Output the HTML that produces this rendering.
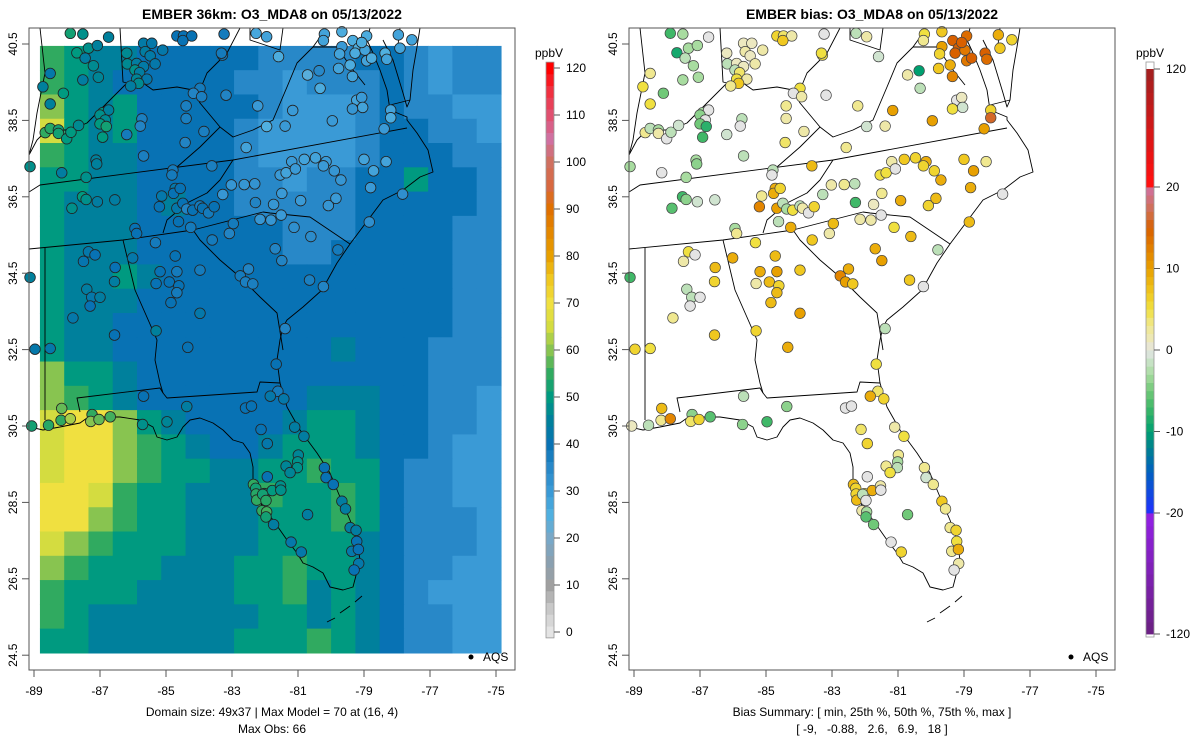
<!DOCTYPE html>
<html><head><meta charset="utf-8">
<style>
html,body{margin:0;padding:0;background:#fff;}
svg{display:block;font-family:"Liberation Sans",Arial,sans-serif;}
</style></head>
<body>
<svg id="chart" width="1200" height="750" viewBox="0 0 1200 750" xmlns="http://www.w3.org/2000/svg">
<defs>
<clipPath id="clipL"><rect x="29" y="28" width="486" height="642"/></clipPath>
<clipPath id="clipR"><rect x="629" y="28" width="486" height="642"/></clipPath>
</defs>
<text x="272" y="19" text-anchor="middle" font-size="14" font-weight="bold">EMBER 36km: O3_MDA8 on 05/13/2022</text>
<text x="872" y="19" text-anchor="middle" font-size="14" font-weight="bold">EMBER bias: O3_MDA8 on 05/13/2022</text>
<g id="gridL" clip-path="url(#clipL)"></g>
<g clip-path="url(#clipL)"><g id="mapL" transform="translate(-600,0)"></g></g>
<g id="mapR" clip-path="url(#clipR)"></g>
<g id="dotsL"></g>
<g id="dotsR"></g>
<rect x="29" y="28" width="486" height="642" fill="none" stroke="#555" stroke-width="1"/>
<rect x="629" y="28" width="486" height="642" fill="none" stroke="#555" stroke-width="1"/>
<g id="axes"></g>
<g id="cbL"></g>
<g id="cbR"></g>
<g><circle cx="471" cy="657" r="2.5" fill="#000"/><text x="483" y="661" font-size="12">AQS</text></g>
<g><circle cx="1071" cy="657" r="2.5" fill="#000"/><text x="1083" y="661" font-size="12">AQS</text></g>
<text x="272" y="716" text-anchor="middle" font-size="12">Domain size: 49x37 | Max Model = 70 at (16, 4)</text>
<text x="272" y="733" text-anchor="middle" font-size="12">Max Obs: 66</text>
<text x="872" y="716" text-anchor="middle" font-size="12">Bias Summary: [ min, 25th %, 50th %, 75th %, max ]</text>
<text x="872" y="733" text-anchor="middle" font-size="12" xml:space="preserve">[ -9,   -0.88,   2.6,   6.9,   18 ]</text>
</svg>
<script>
// ---------- data ----------
const xTicks = [-89,-87,-85,-83,-81,-79,-77,-75];
const yTicks = [40.5,38.5,36.5,34.5,32.5,30.5,28.5,26.5,24.5];
const modelTicks = [0,10,20,30,40,50,60,70,80,90,100,110,120];
const biasTicks = [120,20,10,0,-10,-20,-120];
const gridLonMin = -88.82, gridLonMax = -74.85, gridLatMax = 40.45, gridLatMin = 24.56;
// a=20 b=25 c=30 d=35 e=40 f=45 g=50 h=55 i=60 j=65 k=70 ppbV
const gridRows = [
"hgffeeeeeddddeedcdd",
"hgfeeeeeddcdddedcdd",
"igfgeeeeedcccdeddcc",
"jgfgeeeedccccdeeddc",
"hgffeeeedccccdeeedd",
"ggffeeeeddcddeegeed",
"gfffefeedddddeeeeed",
"gfffeeeeeedddeeeedd",
"gfffeeeeeeddeeeeedd",
"gffgfeeeeeeeeeeeedd",
"gfffeeeeeeeeeeeeedd",
"gffeeeeeeeeeeeeeedd",
"gffeeeeeeeeefeeeddd",
"iggfeeeeeeeeeeeeddd",
"ihgfeeeeeeefffeeddc",
"jkkigfeeeefggfeeddc",
"jkkihgfeefgggfeedcc",
"jkkihggffgghggeddcc",
"kkjhggfffhgghgeddcc",
"kkihggfffggghgedddc",
"jihgggfffggggfedddc",
"ihgggfffgghggfeddcc",
"hgggffffgghfgfedccc",
"hgfffffffggfgfeddcc",
"ggffffffggghgfeddcc"
];
const siteLon = [-87.90,-87.52,-86.74,-87.70,-87.35,-87.08,-87.45,-87.20,-88.51,-88.73,-88.11,-87.52,-87.05,-88.51,-86.19,-85.68,-85.43,-85.63,-85.48,-85.10,-86.17,-85.89,-85.68,-85.33,-85.94,-85.80,-85.58,-85.89,-85.83,-86.07,-84.67,-84.47,-84.22,-84.49,-83.24,-83.29,-83.32,-83.97,-84.17,-83.92,-83.18,-84.39,-84.39,-83.85,-84.42,-85.68,-85.73,-85.78,-86.19,-86.92,-86.74,-87.00,-86.84,-87.00,-86.81,-86.92,-88.66,-88.51,-88.26,-88.26,-88.01,-87.88,-87.65,-87.12,-87.10,-88.16,-87.42,-89.12,-82.22,-81.95,-81.39,-82.57,-81.59,-81.95,-82.27,-80.71,-80.36,-80.33,-81.16,-79.96,-80.20,-80.23,-79.67,-79.67,-79.74,-79.77,-79.42,-79.35,-79.34,-79.17,-79.27,-78.97,-78.92,-79.07,-78.92,-78.77,-78.36,-78.31,-77.96,-77.91,-77.55,-79.22,-79.07,-79.04,-79.35,-78.19,-78.19,-78.39,-84.79,-84.82,-83.61,-84.72,-84.77,-84.57,-85.13,-85.20,-84.67,-84.49,-84.37,-84.19,-83.97,-83.89,-83.71,-83.54,-84.62,-84.25,-85.94,-85.89,-87.53,-87.42,-87.08,-86.55,-87.85,-83.28,-83.02,-82.63,-82.31,-82.29,-81.74,-81.49,-81.51,-82.15,-81.82,-81.54,-81.36,-81.19,-81.08,-80.81,-80.47,-80.15,-80.23,-79.90,-79.70,-79.00,-78.71,-78.33,-78.80,-80.92,-80.08,-79.85,-77.83,-78.84,-81.12,-80.61,-79.79,-82.96,-83.08,-83.60,-81.69,-81.49,-82.50,-82.75,-82.59,-82.37,-80.65,-80.23,-81.39,-87.35,-87.15,-87.50,-86.54,-86.01,-85.32,-84.72,-85.18,-84.67,-83.97,-84.90,-84.61,-84.67,-85.30,-84.85,-83.97,-86.56,-87.40,-87.25,-87.00,-87.30,-87.82,-86.56,-85.30,-89.12,-88.97,-88.51,-84.34,-81.66,-81.61,-81.84,-81.43,-85.68,-84.37,-82.59,-82.41,-88.16,-88.18,-87.90,-87.24,-87.28,-87.03,-86.69,-89.07,-88.56,-85.71,-84.97,-82.12,-81.93,-81.10,-80.82,-80.99,-81.01,-81.02,-81.36,-81.24,-81.93,-82.35,-82.28,-82.27,-82.25,-82.02,-81.78,-81.53,-81.52,-82.07,-81.97,-82.09,-81.95,-81.97,-81.74,-80.71,-81.21,-80.90,-80.20,-80.15,-79.93,-79.67,-79.56,-79.42,-79.24,-79.22,-79.37,-79.17,-79.16,-79.30];
const siteLat = [40.78,40.76,40.68,40.27,40.39,40.46,40.13,39.93,39.73,39.38,39.21,39.56,39.63,38.93,40.26,40.52,40.52,40.30,40.19,40.34,39.98,39.99,39.91,39.98,39.82,39.75,39.58,39.58,39.47,39.40,40.71,40.71,40.71,40.59,40.76,40.21,40.26,39.34,39.21,39.12,39.16,38.88,38.55,38.21,37.92,37.57,38.54,38.35,38.13,38.70,38.77,38.64,38.51,38.41,38.34,38.06,38.18,38.29,38.25,38.16,38.02,38.19,38.37,37.46,37.36,37.13,37.01,37.29,38.88,38.34,38.35,37.79,40.17,40.69,40.78,39.69,39.80,39.34,38.76,38.49,40.76,40.59,40.82,40.43,40.24,39.86,39.95,39.65,40.59,40.39,40.26,40.34,40.71,40.54,40.06,40.13,40.26,40.10,40.74,40.39,40.61,39.03,39.10,38.84,38.80,38.77,38.57,38.28,37.20,37.07,37.31,36.72,36.59,36.72,36.52,36.24,36.20,36.33,36.18,36.15,36.26,36.20,36.08,36.24,35.85,35.70,35.67,35.54,36.50,36.43,36.37,36.42,36.20,36.56,36.81,36.82,36.84,36.35,36.30,36.59,36.02,35.91,35.89,37.07,37.13,37.42,37.23,37.48,37.52,37.42,37.31,37.18,36.94,37.48,37.18,37.42,36.74,36.40,36.27,36.46,36.57,35.84,35.70,35.46,35.11,35.80,35.54,35.37,35.14,34.83,34.61,34.43,34.27,34.22,34.32,34.15,33.05,35.06,34.98,34.81,34.65,34.90,35.30,34.95,34.54,34.54,34.58,34.27,34.17,33.99,34.23,33.73,33.45,34.28,34.08,33.87,33.87,33.64,33.33,32.88,32.99,34.39,32.51,32.53,32.56,32.12,31.41,31.28,31.21,31.28,31.01,30.97,31.02,30.96,30.65,30.69,30.80,30.62,30.67,30.74,30.50,30.52,30.54,30.61,30.41,30.04,30.47,30.23,29.74,29.56,29.41,29.45,29.28,29.17,28.97,28.87,28.72,28.56,28.73,28.81,28.93,28.82,28.71,28.55,28.28,28.25,28.12,27.92,28.18,27.46,27.20,29.41,29.15,28.97,28.53,28.33,27.84,27.77,27.48,27.22,27.27,26.90,26.73];
const siteObs = [52,48,45,50,48,45,44,47,42,45,50,44,46,45,47,43,42,44,43,42,47,44,43,42,48,44,42,46,47,44,40,40,40,40,38,38,38,38,36,37,36,37,37,37,36,37,37,36,38,50,45,48,47,50,52,50,55,54,52,52,50,50,47,45,45,44,48,48,30,25,30,28,26,28,27,24,35,26,30,30,28,28,26,30,28,28,26,28,26,25,26,28,26,26,28,26,25,28,28,28,28,28,30,28,31,28,26,30,38,38,37,42,40,40,42,40,42,40,36,40,38,40,38,40,40,38,40,40,50,48,44,44,48,31,31,31,32,36,31,30,30,31,31,30,28,30,30,28,28,30,30,31,31,28,28,28,30,30,31,30,33,33,33,34,38,38,36,38,36,36,36,38,37,37,37,36,36,42,40,41,40,42,38,40,40,38,38,40,40,38,40,40,42,44,44,42,44,40,42,40,45,45,42,42,40,40,38,42,42,40,44,40,40,58,55,62,55,60,58,56,52,54,48,46,40,42,44,44,46,48,48,46,46,40,55,52,54,55,52,50,48,48,52,54,55,56,52,44,44,42,42,40,40,40,44,44,44,44,40,42,40,42,40];
const siteBias = [-7,-3,0,-9,-3,-3,-2,-3,3,5,-5,-3,-3,5,1,1,1,2,1,2,-2,1,1,2,-2,4,2,5,7,3,6,4,2,7,0,5,5,5,0,2,0,3,2,2,4,-2,-2,0,-1,-3,0,-4,0,-5,-8,-7,3,-2,-3,2,0,-2,-1,-3,-4,0,-3,-3,3,-1,2,3,-1,2,-2,2,-10,-2,10,10,5,3,7,10,6,7,9,12,15,15,15,13,14,15,13,15,15,14,9,7,6,0,1,-1,5,6,16,10,-2,0,8,9,9,6,3,12,10,-2,-3,5,-2,2,0,6,-2,9,-3,3,-7,-4,-1,-1,-6,-2,2,3,-2,-7,1,3,0,2,2,5,5,2,0,7,6,9,6,6,9,7,10,3,9,9,6,8,0,8,5,8,-2,8,2,7,9,10,9,12,10,7,7,0,-2,5,0,2,8,9,5,8,9,10,7,8,6,8,2,8,10,6,-2,-2,0,0,3,7,6,-7,6,5,9,5,4,9,6,-2,-4,0,0,8,3,12,-4,4,6,-6,1,-2,-4,-7,4,6,2,5,3,-3,-2,3,5,0,8,6,6,8,5,9,2,0,-2,0,2,-3,-6,-5,-5,0,6,3,-1,3,7,3,3,6,5,3,9,2,0];

// ---------- scales ----------
const X = lon => 34 + (lon + 89) * 33;
const Y = lat => 44 + (40.5 - lat) * 38.2;
const RIGHT = 600;
const NS = 'http://www.w3.org/2000/svg';
function mk(tag, attrs, parent){const e=document.createElementNS(NS,tag);for(const k in attrs)e.setAttribute(k,attrs[k]);parent.appendChild(e);return e;}
function hex(c){return [parseInt(c.slice(1,3),16),parseInt(c.slice(3,5),16),parseInt(c.slice(5,7),16)];}
function interp(stops, v){
  if(v<=stops[0][0]) return stops[0][1];
  if(v>=stops[stops.length-1][0]) return stops[stops.length-1][1];
  for(let i=1;i<stops.length;i++){ if(v<=stops[i][0]){const a=stops[i-1],b=stops[i];const t=(v-a[0])/(b[0]-a[0]);const ca=hex(a[1]),cb=hex(b[1]);return 'rgb('+ca.map((x,j)=>Math.round(x+(cb[j]-x)*t)).join(',')+')';} }
}
const modelStops=[[0,'#e4e4e4'],[5,'#c8c8c8'],[10,'#a0a0a0'],[15,'#8aa0b0'],[20,'#78a8c8'],[25,'#50b0e0'],[30,'#3a9ad6'],[35,'#2888c8'],[40,'#0872b4'],[45,'#00809c'],[50,'#009a80'],[55,'#30aa60'],[60,'#88c450'],[65,'#d4dc40'],[70,'#f0e040'],[75,'#f0c820'],[80,'#e8a000'],[90,'#e07000'],[95,'#d86840'],[100,'#d07060'],[105,'#d070a0'],[110,'#e05070'],[115,'#f03040'],[120,'#ff0000']];
const biasStops=[[-120,'#6a2080'],[-25,'#9020e0'],[-20,'#2030ff'],[-15,'#0060c0'],[-12,'#008090'],[-10,'#00a070'],[-7,'#40b868'],[-5,'#70c878'],[-3,'#a8dca0'],[-1,'#d0e4d0'],[0,'#e4e4e4'],[1,'#ece8c0'],[3,'#f0e890'],[5,'#f0e040'],[7,'#f0c820'],[10,'#e8a000'],[13,'#e07800'],[15,'#d86000'],[17,'#d07050'],[20,'#d070a0'],[22,'#e84070'],[25,'#ff1010'],[120,'#a02020']];

// ---------- model grid ----------
const gL=document.getElementById('gridL');
const nr=gridRows.length, nc=gridRows[0].length;
const dLon=(gridLonMax-gridLonMin)/nc, dLat=(gridLatMax-gridLatMin)/nr;
for(let r=0;r<nr;r++){for(let c=0;c<nc;c++){
  const v=20+5*(gridRows[r].charCodeAt(c)-97);
  const x0=X(gridLonMin+c*dLon), x1=X(gridLonMin+(c+1)*dLon);
  const y0=Y(gridLatMax-r*dLat), y1=Y(gridLatMax-(r+1)*dLat);
  const cell=mk('rect',{x:x0,y:y0,width:x1-x0+0.6,height:y1-y0+0.6,fill:interp(modelStops,v)},gL);
  
  
}}

// ---------- map outlines (right-panel pixel space) ----------
const outlines=[
"630,427 643,430 660,427 680,423 687,418 700,417 720,417 740,420 753,427 757,437 767,440 777,437 783,427 790,420 800,418 813,423 823,430 833,440 843,443 850,453 853,467 853,483 857,497 863,507 873,520 880,530 887,540 897,553 903,563 913,567 923,573 930,587 943,590 953,587 960,560 957,540 950,520 940,497 930,473 917,453 900,430 887,407 880,383 877,360 880,340 883,327 887,320 903,307 922,290 937,263 950,244 968,220 983,200 1003,190 1020,177 1033,172 1028,150 1017,133 1007,120 1007,117 990,110 987,90 980,70 973,53 967,40 970,28",
"983,40 993,60 1003,93 1007,107 1010,100 1013,70 1017,47 1020,28",
"927,622 935,618 M940,613 950,606 M955,602 962,596",
"645,248 645,420",
"680,412 677,398 760,388 763,393 767,398 857,392 860,382 880,383",
"723,240 735,290 757,340 755,360 760,383 763,393",
"629,249 723,240 793,230 863,212",
"793,230 800,240 820,260 840,277 860,297 877,313 883,350",
"863,212 870,213 910,217 950,244",
"629,192 640,185 833,160 1007,128",
"833,160 820,180 807,193 787,203 767,220 763,233",
"777,167 800,147 820,127 800,103 793,90 777,87 753,90 743,83 727,82",
"629,155 637,140 647,130 670,130 687,123 710,100 727,83",
"640,28 645,73 637,113 633,140 629,155",
"720,28 723,82 727,83",
"820,127 833,137 853,130 873,120 887,87 897,63 913,47 923,33",
"793,90 800,90 807,73 827,53 840,28",
"850,28 850,40 880,50 883,28",
"913,47 937,47 953,70 965,85",
"997,53 1000,28",
"1010,100 990,105"
];
for(const g of ['mapL','mapR']){
  const grp=document.getElementById(g);
  outlines.forEach(p=>{
    const d='M'+p.replace(/M/g,' M').trim().split(' M').map(s=>s.trim().split(' ').join(' L')).join(' M');
    const path=mk('path',{d:d,fill:'none',stroke:'#000','stroke-width':0.9,'stroke-linejoin':'round'},grp);
    
    
  });
}

// ---------- stations ----------
const dL=document.getElementById('dotsL'), dR=document.getElementById('dotsR');
for(let i=0;i<siteLon.length;i++){
  const cx=X(siteLon[i]), cy=Y(siteLat[i]);
  const a=mk('circle',{cx:cx,cy:cy,r:5.3,fill:interp(modelStops,siteObs[i]),stroke:'#222','stroke-width':0.8},dL);
  
  
  const b=mk('circle',{cx:cx+RIGHT,cy:cy,r:5.3,fill:interp(biasStops,siteBias[i]),stroke:'#444','stroke-width':0.7},dR);
  
  
}

// ---------- axes ----------
const ax=document.getElementById('axes');
[0,RIGHT].forEach(off=>{
  mk('line',{x1:X(-89)+off,x2:X(-75)+off,y1:670,y2:670,stroke:'#555'},ax);
  xTicks.forEach(t=>{
    mk('line',{x1:X(t)+off,x2:X(t)+off,y1:670,y2:677,stroke:'#555'},ax);
    const tx=mk('text',{x:X(t)+off,y:695,'text-anchor':'middle','font-size':12},ax);
    tx.textContent=String(t);
    
    
  });
  yTicks.forEach(t=>{
    mk('line',{x1:29+off,x2:22+off,y1:Y(t),y2:Y(t),stroke:'#555'},ax);
    const ty=mk('text',{x:0,y:0,'text-anchor':'middle','font-size':12,transform:'translate('+(17+off)+','+Y(t)+') rotate(-90)'},ax);
    ty.textContent=t.toFixed(1);
    
    
  });
});

// ---------- model colorbar ----------
const cbL=document.getElementById('cbL');
const cbY=v=>632-v*4.7;
for(let v=-1.25;v<120;v+=2.5){
  const sw=mk('rect',{x:546,y:cbY(v+2.5),width:8,height:2.5*4.7+0.4,fill:interp(modelStops,v+1.25)},cbL);
  
  
}
mk('rect',{x:546,y:cbY(121.25),width:8,height:cbY(-1.25)-cbY(121.25),fill:'none',stroke:'#999','stroke-width':0.8},cbL);
modelTicks.forEach(t=>{
  mk('line',{x1:554,x2:560,y1:cbY(t),y2:cbY(t),stroke:'#555'},cbL);
  const lt=mk('text',{x:566,y:cbY(t)+4,'font-size':12},cbL);
  lt.textContent=String(t);
  
  
});
const uL=mk('text',{x:549,y:57,'text-anchor':'middle','font-size':12},cbL);uL.textContent='ppbV';



// ---------- bias colorbar ----------
const cbR=document.getElementById('cbR');
const bY=v=>{ if(v>20) return 187-(v-20)/100*118; if(v<-20) return 514+(-v-20)/100*120; return 350-v*8.15; };
const binEdges=[];
for(let v=-120;v<-20;v+=10)binEdges.push(v);
for(let v=-20;v<20;v+=1)binEdges.push(v);
for(let v=20;v<=120;v+=10)binEdges.push(v);
for(let i=0;i<binEdges.length-1;i++){
  const a=binEdges[i],b=binEdges[i+1];
  const sw=mk('rect',{x:1146,y:bY(b),width:8,height:bY(a)-bY(b)+0.4,fill:interp(biasStops,(a+b)/2)},cbR);
  
  
}
mk('rect',{x:1146,y:bY(120)-7,width:8,height:bY(-120)-bY(120)+10,fill:'none',stroke:'#999','stroke-width':0.8},cbR);
biasTicks.forEach(t=>{
  mk('line',{x1:1154,x2:1160,y1:bY(t),y2:bY(t),stroke:'#555'},cbR);
  const lt=mk('text',{x:1166,y:bY(t)+4,'font-size':12},cbR);
  lt.textContent=String(t);
  
  
});
const uR=mk('text',{x:1150,y:57,'text-anchor':'middle','font-size':12},cbR);uR.textContent='ppbV';


</script>
</body></html>
